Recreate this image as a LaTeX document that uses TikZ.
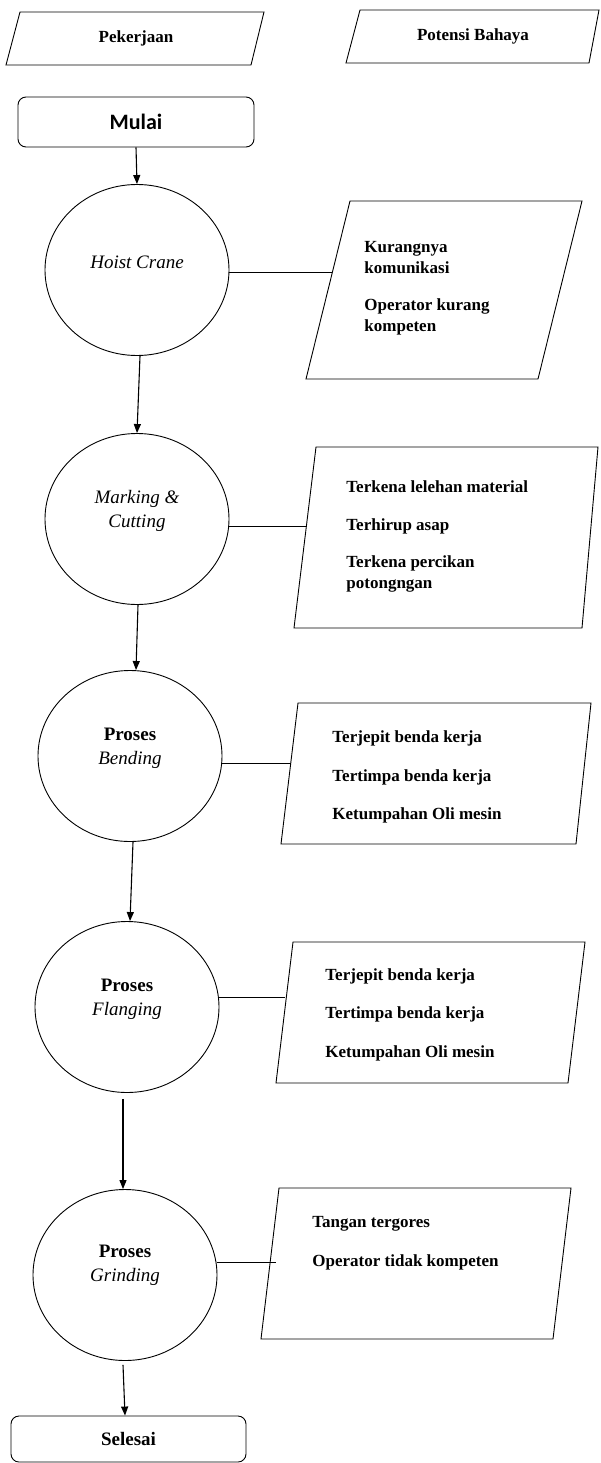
\documentclass[tikz,border=0pt]{standalone}
\usepackage{fontspec}
\setmainfont{Liberation Serif}
\newfontfamily\calib{Carlito}
\usetikzlibrary{shapes.geometric,arrows.meta}
\begin{document}
\begin{tikzpicture}[x=1pt,y=-1pt,
  line width=0.9pt,
  proc/.style={draw,ellipse,minimum width=184pt,minimum height=171pt,inner sep=0pt},
  ptext/.style={align=center,font=\fontsize{19}{24}\selectfont,inner sep=0pt},
  htext/.style={anchor=west,align=left,inner sep=0pt,font=\bfseries\fontsize{17}{21}\selectfont},
  term/.style={draw,rounded corners=8pt,inner sep=0pt},
  arr/.style={-{Triangle[length=9pt,width=7pt]},line width=1.1pt},
  link/.style={line width=0.9pt}]
\useasboundingbox (0,0) rectangle (600,1463);

% headers
\draw (20,12) -- (264,12) -- (251,65) -- (6,65) -- cycle;
\node[inner sep=0pt,font=\bfseries\fontsize{17}{21}\selectfont] (hpek) at (136,38) {Pekerjaan};
\draw (360,10) -- (599,10) -- (589,63) -- (346,63) -- cycle;
\node[inner sep=0pt,font=\bfseries\fontsize{17}{21}\selectfont] (hpot) at (473,36) {Potensi Bahaya};

% start / end
\node[term,minimum width=236pt,minimum height=50pt,font=\calib\bfseries\fontsize{22}{26}\selectfont] (mulai) at (136,122) {Mulai};
\node[term,minimum width=235pt,minimum height=46pt,font=\bfseries\fontsize{19}{23}\selectfont] (selesai) at (128.5,1439) {Selesai};

% process ellipses
\node[proc] (hoist) at (137,270) {};
\node[ptext] (thoist) at (137,262) {\textit{Hoist Crane}};
\node[proc] (marking) at (137,519) {};
\node[ptext] (tmarking) at (137,511) {\textit{Marking \&}\\\textit{Cutting}};
\node[proc] (bending) at (130,756) {};
\node[ptext] (tbending) at (130,748) {\textbf{Proses}\\\textit{Bending}};
\node[proc] (flanging) at (127,1007) {};
\node[ptext] (tflanging) at (127,999) {\textbf{Proses}\\\textit{Flanging}};
\node[proc] (grinding) at (125,1275) {};
\node[ptext] (tgrinding) at (125,1265) {\textbf{Proses}\\\textit{Grinding}};

% hazard boxes
\draw (350,201) -- (582,201) -- (538,379) -- (306,379) -- cycle;
\coordinate (e1) at (332,272);
\node[htext] (h1a) at (364,257.5) {Kurangnya\\komunikasi};
\node[htext] (h1b) at (364,317) {Operator kurang\\kompeten};

\draw (316,447) -- (598,447) -- (582,628) -- (294,628) -- cycle;
\coordinate (e2) at (306,526);
\node[htext] (h2a) at (346,487) {Terkena lelehan material};
\node[htext] (h2b) at (346,526) {Terhirup asap};
\node[htext] (h2c) at (346,574) {Terkena percikan\\potongngan};

\draw (298,703) -- (591,703) -- (576,844) -- (281,844) -- cycle;
\coordinate (e3) at (291,763);
\node[htext] (h3a) at (332,738) {Terjepit benda kerja};
\node[htext] (h3b) at (332,777) {Tertimpa benda kerja};
\node[htext] (h3c) at (332,815) {Ketumpahan Oli mesin};

\draw (293,942) -- (585,942) -- (568,1083) -- (276,1083) -- cycle;
\coordinate (e4) at (285,997);
\node[htext] (h4a) at (325,976) {Terjepit benda kerja};
\node[htext] (h4b) at (325,1014) {Tertimpa benda kerja};
\node[htext] (h4c) at (325,1053) {Ketumpahan Oli mesin};

\draw (279,1188) -- (571,1188) -- (553,1339) -- (261,1339) -- cycle;
\coordinate (e5) at (276,1262);
\node[htext] (h5a) at (312,1224) {Tangan tergores};
\node[htext] (h5b) at (312,1262) {Operator tidak kompeten};

% links
\draw[link] (hoist.east |- e1) -- (e1);
\draw[link] (marking.east |- e2) -- (e2);
\draw[link] (bending.east |- e3) -- (e3);
\draw[link] (flanging.east |- e4) -- (e4);
\draw[link] (grinding.east |- e5) -- (e5);

% flow arrows
\draw[arr] (mulai.south) -- (hoist.north);
\draw[arr] ([xshift=3pt]hoist.south) -- (marking.north);
\draw[arr] ([xshift=1pt]marking.south) -- ([xshift=6pt]bending.north);
\draw[arr] ([xshift=3pt]bending.south) -- ([xshift=3pt]flanging.north);
\draw[arr] ([xshift=-4pt,yshift=-6pt]flanging.south) -- ([xshift=-2pt]grinding.north);
\draw[arr] ([xshift=-2pt,yshift=-4pt]grinding.south) -- (selesai.north -| grinding.south);
\end{tikzpicture}
\end{document}
